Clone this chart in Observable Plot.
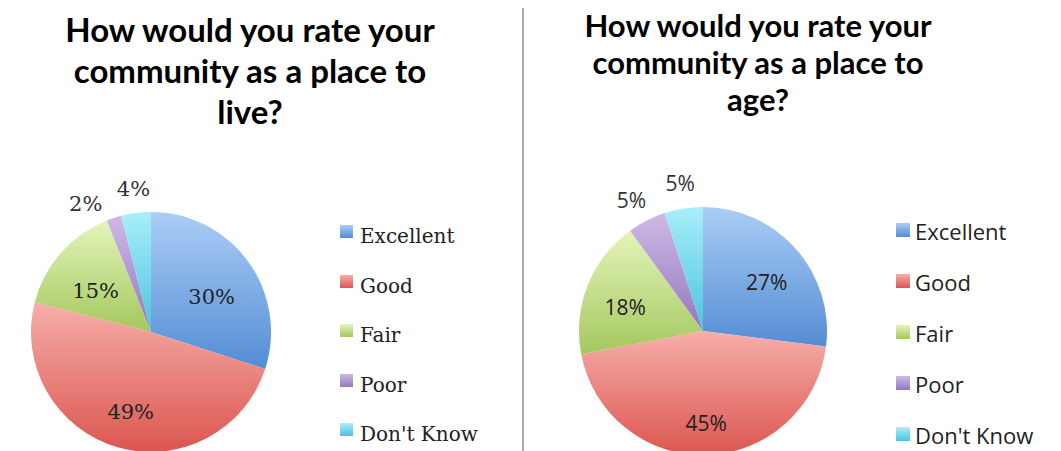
<!DOCTYPE html>
<html>
<head>
<meta charset="utf-8">
<script src="https://cdn.jsdelivr.net/npm/d3@7"></script>
<script src="https://cdn.jsdelivr.net/npm/@observablehq/plot@0.6"></script>
<style>
  html, body { margin: 0; padding: 0; background: #fff; overflow: hidden; }
  #root { position: relative; width: 1061px; height: 451px; overflow: hidden; }
  .title { position: absolute; text-align: center; font-family: Lato, "Open Sans", sans-serif; font-weight: 700; color: #000; white-space: nowrap; }
  .sw { position: absolute; }
  .lt { position: absolute; white-space: nowrap; color: #222; }
</style>
</head>
<body>
<div id="root"></div>
<script>
// ---- data ----
const categories = ["Excellent", "Good", "Fair", "Poor", "Don't Know"];
const liveValues = [30, 49, 15, 2, 4];
const ageValues = [27, 45, 18, 5, 5];
const liveTitle = ["How would you rate your", "community as a place to", "live?"];
const ageTitle = ["How would you rate your", "community as a place to", "age?"];
const colorTop = ["#abcdf6", "#f7aeaa", "#e3f5ba", "#cdb9e6", "#a9eefa"];
const colorBottom = ["#538dd4", "#dc5650", "#a5c75f", "#9577bf", "#4bc4dc"];

const root = document.getElementById("root");

// gradient defs
const defs = d3.select(root).append("svg")
  .attr("width", 0).attr("height", 0)
  .style("position", "absolute").append("defs");
categories.forEach((c, i) => {
  const g = defs.append("linearGradient").attr("id", "grad" + i)
    .attr("x1", 0).attr("y1", 0).attr("x2", 0).attr("y2", 1);
  g.append("stop").attr("offset", "0%").attr("stop-color", colorTop[i]);
  g.append("stop").attr("offset", "100%").attr("stop-color", colorBottom[i]);
});

function pieData(values, rIn) {
  const arcs = d3.pie().sort(null).value(d => d.value)(
    values.map((v, i) => ({key: categories[i], idx: i, value: v}))
  ).map(a => ({...a, mid: (a.startAngle + a.endAngle) / 2, outside: a.data.value < 8}));
  // push neighbouring outside labels apart (keep the later one, move earlier back)
  const minSep = 20 * Math.PI / 180;
  for (let i = arcs.length - 2; i >= 0; i--) {
    const a = arcs[i], b = arcs[i + 1];
    if (a.outside && b.outside && b.mid - a.mid < minSep) a.mid = b.mid - minSep;
  }
  return arcs.map(a => {
    const r = a.outside ? 1.2 : rIn;
    return {...a, lx: r * Math.sin(a.mid), ly: r * Math.cos(a.mid), label: a.data.value + "%"};
  });
}

function makePie(values, size, font, fontSize, rIn) {
  const arcs = pieData(values, rIn);
  const R = 1.25;
  return Plot.plot({
    width: size, height: size,
    margin: 0,
    x: {domain: [-R, R], axis: null},
    y: {domain: [-R, R], axis: null},
    style: {background: "transparent", overflow: "visible"},
    marks: [
      (index, scales) => {
        const {x, y} = scales;
        const cx = x(0), cy = y(0), r = x(1) - x(0);
        const g = d3.create("svg:g").attr("transform", `translate(${cx},${cy})`);
        g.selectAll("path").data(arcs).join("path")
          .attr("d", d3.arc().innerRadius(0).outerRadius(r))
          .attr("fill", d => `url(#grad${d.data.idx})`);
        return g.node();
      },
      Plot.text(arcs.filter(d => !d.outside), {
        x: "lx", y: "ly", text: "label", dy: 8,
        fontFamily: font, fontSize, fill: "#222"
      }),
      Plot.text(arcs.filter(d => d.outside), {
        x: "lx", y: "ly", text: "label",
        fontFamily: font, fontSize, fill: "#333"
      })
    ]
  });
}

function addTitle(lines, left, top, width, fontSize, lineHeight) {
  const d = document.createElement("div");
  d.className = "title";
  Object.assign(d.style, {left: left + "px", top: top + "px", width: width + "px",
    fontSize: fontSize + "px", lineHeight: lineHeight + "px"});
  lines.forEach((l, i) => {
    if (i) d.appendChild(document.createElement("br"));
    d.appendChild(document.createTextNode(l));
  });
  root.appendChild(d);
}

function addLegend(left, top0, step, sq, textLeft, textDy, font, fontSize) {
  categories.forEach((c, i) => {
    const s = document.createElement("div");
    s.className = "sw";
    Object.assign(s.style, {left: left + "px", top: (top0 + i * step) + "px",
      width: sq + "px", height: sq + "px",
      background: `linear-gradient(${colorTop[i]}, ${colorBottom[i]})`});
    root.appendChild(s);
    const t = document.createElement("div");
    t.className = "lt";
    Object.assign(t.style, {left: textLeft + "px", top: (top0 + i * step + textDy) + "px",
      fontFamily: font, fontSize: fontSize + "px", lineHeight: fontSize + "px"});
    t.textContent = c;
    root.appendChild(t);
  });
}

// titles
addTitle(liveTitle, 0, 9, 500, 33, 41);
addTitle(ageTitle, 508, 6.5, 500, 31, 37);

// divider
const div = document.createElement("div");
Object.assign(div.style, {position: "absolute", left: "521.5px", top: "8px", width: "2px", height: "443px", background: "#ababab"});
root.appendChild(div);

// pies
const p1 = makePie(liveValues, 300, "DejaVu Serif", 21, 0.62);
Object.assign(p1.style, {left: "1px", top: "182px", position: "absolute"});
root.appendChild(p1);

const p2 = makePie(ageValues, 310, "Open Sans", 21, 0.68);
Object.assign(p2.style, {left: "547.5px", top: "176px", position: "absolute"});
root.appendChild(p2);

// legends
addLegend(340, 225, 49.5, 13, 360, 1, "DejaVu Serif", 20);
addLegend(896, 223, 51, 14, 915, -3, "Open Sans", 22);
</script>
</body>
</html>
